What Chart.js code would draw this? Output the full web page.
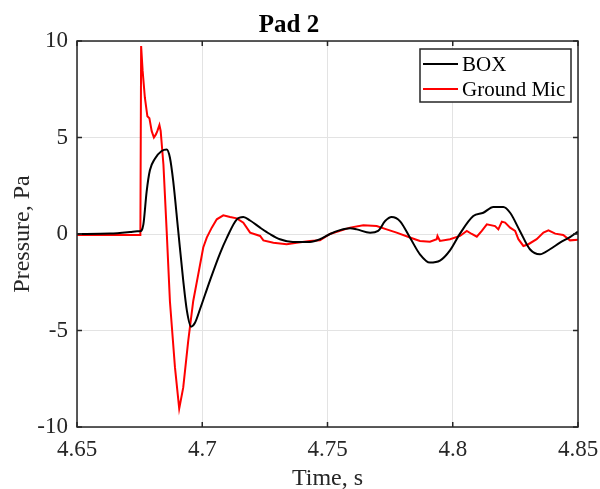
<!DOCTYPE html>
<html>
<head>
<meta charset="utf-8">
<script src="https://cdn.jsdelivr.net/npm/chart.js@4.4.1/dist/chart.umd.min.js"></script>
<style>
  html, body { margin: 0; padding: 0; background: #fff; }
  #chart { display: block; }
</style>
</head>
<body>
<canvas id="chart" width="600" height="489"></canvas>
<script>
// series (time in s, pressure in Pa)
const boxTime = [4.65, 4.6632, 4.6712, 4.674, 4.6751, 4.6765, 4.6778, 4.6791, 4.6811, 4.6838, 4.6858, 4.6871, 4.6884, 4.6904, 4.6924, 4.6939, 4.6955, 4.6971, 4.6991, 4.7031, 4.7071, 4.7098, 4.7138, 4.7164, 4.7191, 4.7231, 4.727, 4.731, 4.7362, 4.743, 4.747, 4.751, 4.755, 4.759, 4.7617, 4.767, 4.7702, 4.773, 4.7756, 4.7789, 4.7829, 4.7869, 4.7909, 4.7949, 4.7989, 4.8029, 4.8082, 4.8122, 4.8162, 4.8202, 4.8229, 4.8268, 4.8308, 4.8348, 4.8388, 4.8428, 4.8468, 4.85];
const boxValues = [0, 0.02, 0.1, 0.14, 0.14, 0.5, 2.2, 3.3, 3.9, 4.3, 4.38, 3.95, 2.75, 0.17, -2.4, -4.0, -4.8, -4.6, -3.9, -2.4, -1.0, -0.2, 0.76, 0.88, 0.7, 0.33, 0, -0.27, -0.41, -0.41, -0.27, 0, 0.2, 0.3, 0.24, 0.07, 0.16, 0.67, 0.88, 0.67, -0.18, -1.05, -1.48, -1.38, -0.85, 0.02, 0.93, 1.1, 1.4, 1.4, 1.1, 0.16, -0.79, -1.05, -0.79, -0.45, -0.16, 0.12];

const micTime = [4.65, 4.6672, 4.6753, 4.6756, 4.6762, 4.6771, 4.6781, 4.6789, 4.6798, 4.6807, 4.6815, 4.6821, 4.6829, 4.6834, 4.6845, 4.6858, 4.6871, 4.6891, 4.6908, 4.6924, 4.6944, 4.6964, 4.6984, 4.7004, 4.7018, 4.7038, 4.7058, 4.7084, 4.7111, 4.7138, 4.7164, 4.7191, 4.7231, 4.7244, 4.7284, 4.7337, 4.7377, 4.743, 4.747, 4.751, 4.755, 4.759, 4.7643, 4.7696, 4.7736, 4.7776, 4.7829, 4.7869, 4.7909, 4.7936, 4.7939, 4.7949, 4.7989, 4.8029, 4.8056, 4.8076, 4.8096, 4.8116, 4.8136, 4.8169, 4.8182, 4.8196, 4.8209, 4.8229, 4.8249, 4.8262, 4.8282, 4.8302, 4.8335, 4.8362, 4.8382, 4.8409, 4.8441, 4.8468, 4.85];
const micValues = [-0.05, -0.05, -0.05, 9.74, 8.45, 7.06, 6.1, 6.0, 5.34, 5.0, 5.16, 5.34, 5.65, 5.34, 3.6, 0.15, -3.5, -6.9, -9.05, -7.96, -5.54, -3.47, -2.09, -0.7, -0.19, 0.33, 0.76, 0.97, 0.88, 0.81, 0.59, 0.07, -0.1, -0.33, -0.45, -0.53, -0.45, -0.36, -0.33, 0, 0.16, 0.33, 0.45, 0.41, 0.24, 0.07, -0.18, -0.36, -0.4, -0.27, -0.1, -0.36, -0.27, -0.1, 0.16, 0, -0.14, 0.16, 0.5, 0.41, 0.24, 0.64, 0.59, 0.33, 0.16, -0.27, -0.62, -0.53, -0.27, 0.07, 0.19, 0.02, -0.05, -0.33, -0.3];

const xTicks = [4.65, 4.7, 4.75, 4.8, 4.85];
const yTicks = [-10, -5, 0, 5, 10];

const serif = '"Liberation Serif", "DejaVu Serif", serif';
const frameColor = '#262626';

// box round the axes plus MATLAB-style inward tick marks
const framePlugin = {
    id: 'frame',
    afterDatasetsDraw(chart) {
        const {ctx, chartArea: a, scales} = chart;
        ctx.save();
        ctx.strokeStyle = frameColor;
        ctx.lineWidth = 1.5;
        ctx.strokeRect(a.left, a.top, a.right - a.left, a.bottom - a.top);
        ctx.beginPath();
        xTicks.forEach(v => {
            let px = scales.x.getPixelForValue(v);
            ctx.moveTo(px, a.bottom); ctx.lineTo(px, a.bottom - 5);
            ctx.moveTo(px, a.top); ctx.lineTo(px, a.top + 5);
        });
        yTicks.forEach(v => {
            let py = scales.y.getPixelForValue(v);
            ctx.moveTo(a.left, py); ctx.lineTo(a.left + 5, py);
            ctx.moveTo(a.right, py); ctx.lineTo(a.right - 5, py);
        });
        ctx.stroke();
        ctx.restore();
    }
};

// boxed legend in the top right corner of the axes
const legendPlugin = {
    id: 'boxLegend',
    afterDraw(chart) {
        const {ctx} = chart;
        const left = 420, top = 49, right = 571, bottom = 102;
        ctx.save();
        ctx.fillStyle = '#fff';
        ctx.fillRect(left, top, right - left, bottom - top);
        ctx.strokeStyle = frameColor;
        ctx.lineWidth = 1.5;
        ctx.strokeRect(left, top, right - left, bottom - top);
        ctx.font = '21px ' + serif;
        ctx.textBaseline = 'middle';
        chart.data.datasets.forEach((ds, i) => {
            let y = 64 + i * 25;
            ctx.strokeStyle = ds.borderColor;
            ctx.lineWidth = 2;
            ctx.beginPath();
            ctx.moveTo(423, y); ctx.lineTo(458, y);
            ctx.stroke();
            ctx.fillStyle = '#000';
            ctx.fillText(ds.label, 462, y + 1);
        });
        ctx.restore();
    }
};

const toPoints = (xs, ys) => xs.map((x, i) => ({x: x, y: ys[i]}));

new Chart(document.getElementById('chart'), {
    type: 'line',
    data: {
        datasets: [{
            label: 'BOX',
            data: toPoints(boxTime, boxValues),
            borderColor: '#000000',
            borderWidth: 2,
            pointRadius: 0,
            cubicInterpolationMode: 'monotone'
        }, {
            label: 'Ground Mic',
            data: toPoints(micTime, micValues),
            borderColor: '#ff0000',
            borderWidth: 2,
            pointRadius: 0,
            tension: 0
        }]
    },
    options: {
        responsive: false,
        devicePixelRatio: 1,
        animation: false,
        layout: {padding: {left: 0, right: 22, top: 0, bottom: 0}},
        plugins: {
            legend: {display: false},
            tooltip: {enabled: false},
            title: {
                display: true,
                text: 'Pad 2',
                color: '#000',
                font: {family: serif, size: 25, weight: 'bold', lineHeight: 1},
                padding: {top: 13, bottom: 3}
            }
        },
        scales: {
            x: {
                type: 'linear',
                min: 4.65,
                max: 4.85,
                afterBuildTicks: scale => { scale.ticks = xTicks.map(v => ({value: v})); },
                afterFit: scale => {
                    scale.height = 62;
                    scale.paddingLeft = 0;
                    scale.paddingRight = 0;
                },
                ticks: {
                    color: '#262626',
                    font: {family: serif, size: 23},
                    padding: 9,
                    maxRotation: 0,
                    callback: v => String(Number(v.toFixed(2)))
                },
                grid: {color: '#e3e3e3', lineWidth: 1, drawTicks: false},
                border: {display: false},
                title: {
                    display: true,
                    text: 'Time, s',
                    color: '#262626',
                    font: {family: serif, size: 24},
                    padding: {top: 0, bottom: -4}
                }
            },
            y: {
                min: -10,
                max: 10,
                afterBuildTicks: scale => { scale.ticks = yTicks.map(v => ({value: v})); },
                afterFit: scale => { scale.width = 77; },
                ticks: {
                    color: '#262626',
                    font: {family: serif, size: 23},
                    padding: 9
                },
                grid: {color: '#e3e3e3', lineWidth: 1, drawTicks: false},
                border: {display: false},
                title: {
                    display: true,
                    text: 'Pressure, Pa',
                    color: '#262626',
                    font: {family: serif, size: 24},
                    padding: {top: 8, bottom: 0}
                }
            }
        }
    },
    plugins: [framePlugin, legendPlugin]
});
</script>
</body>
</html>
